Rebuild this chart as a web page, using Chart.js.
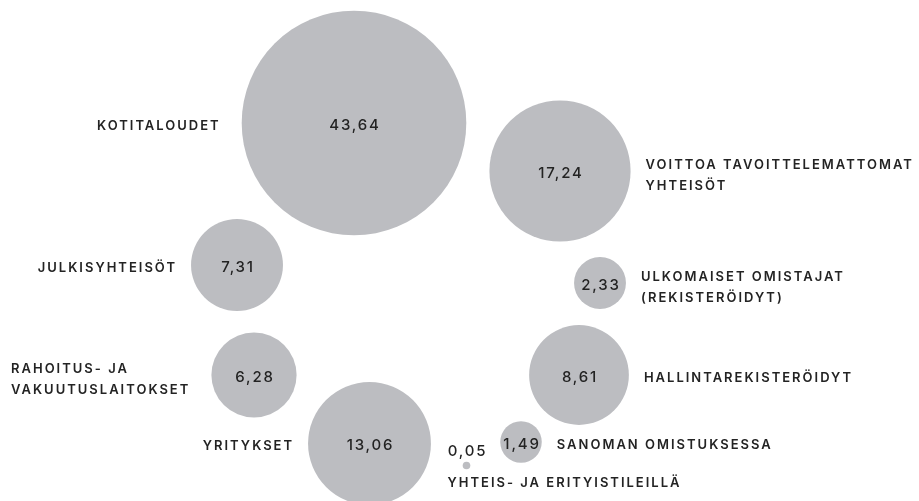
<!DOCTYPE html>
<html>
<head>
<meta charset="utf-8">
<script src="https://cdn.jsdelivr.net/npm/chart.js@4/dist/chart.umd.min.js"></script>
<style>
  html, body { margin: 0; padding: 0; background: #ffffff; }
  #wrap { width: 919px; height: 501px; position: relative; }
</style>
</head>
<body>
<div id="wrap"><canvas id="grafica"></canvas></div>
<script>
// omistajaryhmät ja osuudet (%)
const ryhmat = [
  ["KOTITALOUDET"],
  ["VOITTOA TAVOITTELEMATTOMAT", "YHTEISÖT"],
  ["JULKISYHTEISÖT"],
  ["ULKOMAISET OMISTAJAT", "(REKISTERÖIDYT)"],
  ["RAHOITUS- JA", "VAKUUTUSLAITOKSET"],
  ["HALLINTAREKISTERÖIDYT"],
  ["YRITYKSET"],
  ["YHTEIS- JA ERITYISTILEILLÄ"],
  ["SANOMAN OMISTUKSESSA"]
];
const osuudet = [43.64, 17.24, 7.31, 2.33, 6.28, 8.61, 13.06, 0.05, 1.49];
const osuusTekstit = ["43,64", "17,24", "7,31", "2,33", "6,28", "8,61", "13,06", "0,05", "1,49"];

// kuplien paikat asettelussa (vapaa koordinaatisto, ei akseleita)
const paikkaX = [354, 560, 237, 600, 254, 579, 369.5, 466.5, 521];
const paikkaY = [123, 171, 265, 283, 375, 375, 443.5, 465.5, 442];

// tekstin sijoitus: puoli ja rivien kohta
const puoli = ["left", "right", "left", "right", "leftblock", "right", "left", "below", "right"];

const KOKO = 17; // säde = KOKO * sqrt(osuus)

let data = osuudet.map((v, i) => ({ x: paikkaX[i], y: paikkaY[i], r: KOKO * Math.sqrt(v) }));

const tekstit = {
  id: "tekstit",
  afterDatasetsDraw(chart) {
    const ctx = chart.ctx;
    const meta = chart.getDatasetMeta(0);
    ctx.save();
    ctx.fillStyle = "#232323";
    ctx.textBaseline = "middle";
    meta.data.forEach((el, i) => {
      const r = el.options.radius;
      // arvo
      ctx.font = "500 15px Inter";
      ctx.letterSpacing = "1.8px";
      ctx.textAlign = "center";
      if (puoli[i] === "below") {
        ctx.fillText(osuusTekstit[i], el.x + 1, el.y - 14);
      } else {
        ctx.fillText(osuusTekstit[i], el.x + 1, el.y + 2);
      }
      // nimi
      ctx.font = "600 13px Inter";
      ctx.letterSpacing = "2px";
      const rivit = ryhmat[i];
      const vali = 21;
      const alku = el.y + 3 - ((rivit.length - 1) * vali) / 2;
      rivit.forEach((t, j) => {
        const y = alku + j * vali + (rivit.length > 1 ? 2 : 0);
        if (puoli[i] === "left") {
          ctx.textAlign = "right";
          ctx.fillText(t, el.x - r - (i === 0 ? 21 : 14), y);
        } else if (puoli[i] === "right") {
          ctx.textAlign = "left";
          ctx.fillText(t, el.x + r + 15, y);
        } else if (puoli[i] === "leftblock") {
          ctx.textAlign = "left";
          ctx.fillText(t, 11, y);
        } else {
          ctx.textAlign = "left";
          ctx.fillText(t, el.x - 19, el.y + 18);
        }
      });
    });
    ctx.restore();
  }
};

let ctx = document.getElementById("grafica").getContext("2d");
let grafica = new Chart(ctx, {
  type: "bubble",
  data: {
    datasets: [
      {
        label: "Omistajat",
        data: data,
        backgroundColor: "rgb(188, 189, 193)",
        borderWidth: 0,
        hoverBorderWidth: 0,
        clip: false
      }
    ]
  },
  options: {
    responsive: true,
    maintainAspectRatio: false,
    animation: false,
    layout: { padding: 0, autoPadding: false },
    plugins: {
      legend: { display: false },
      tooltip: { enabled: false }
    },
    scales: {
      x: { type: "linear", min: 0, max: 919, display: false },
      y: { type: "linear", min: 0, max: 501, reverse: true, display: false }
    }
  },
  plugins: [tekstit]
});
</script>
</body>
</html>
